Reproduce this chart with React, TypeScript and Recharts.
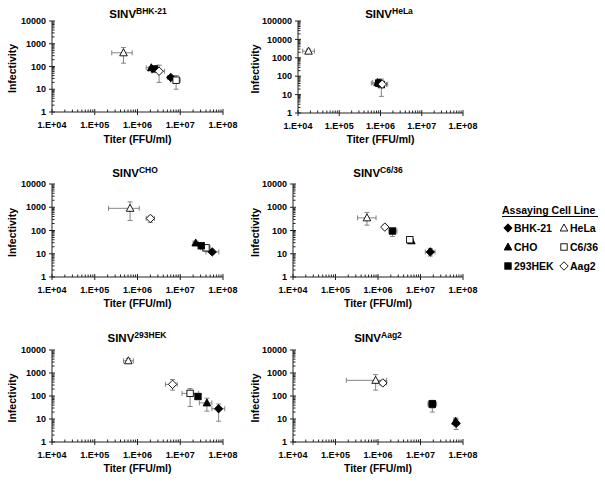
import React from 'react';
import { ScatterChart, Scatter, XAxis, YAxis, ZAxis, ErrorBar } from 'recharts';

// assaying cell lines, in legend order
const CELL_LINES = ['BHK-21', 'HeLa', 'CHO', 'C6/36', '293HEK', 'Aag2'];
const SHAPES = ['diamond', 'triangle', 'triangle', 'square', 'square', 'diamond'];
const FILLED = [true, false, true, false, true, false];

// tick labels
const X_MAJOR = [1e4, 1e5, 1e6, 1e7, 1e8];
const Y_MAJOR = [1, 10, 100, 1000, 10000];
const Y_MAJOR_TALL = [1, 10, 100, 1000, 10000, 100000];

// each row: [titer, titerLow, titerHigh, infectivity, infLow, infHigh], in CELL_LINES order
type Row = [number, number, number, number, number, number];

const SINV_BHK21: Row[] = [
  [6.0e6, 5.0e6, 7.0e6, 33, 28, 38],
  [4.7e5, 2.5e5, 7.5e5, 400, 140, 680],
  [2.1e6, 1.6e6, 2.6e6, 88, 75, 100],
  [8.0e6, 6.0e6, 1.0e7, 25, 10, 40],
  [2.5e6, 1.8e6, 3.0e6, 78, 60, 95],
  [3.2e6, 2.2e6, 4.3e6, 62, 20, 115],
];

const SINV_HELA: Row[] = [
  [9.5e5, 7.5e5, 1.2e6, 40, 30, 55],
  [1.8e4, 1.3e4, 2.5e4, 2300, 1800, 3000],
  [8.5e5, 6.5e5, 1.1e6, 45, 35, 60],
  [1.05e6, 8.0e5, 1.4e6, 35, 8, 70],
  [9.0e5, 6.0e5, 1.2e6, 42, 30, 70],
  [1.1e6, 9.0e5, 1.5e6, 37, 25, 50],
];

const SINV_CHO: Row[] = [
  [5.6e7, 4.0e7, 8.0e7, 12, 10, 14],
  [6.7e5, 2.1e5, 1.1e6, 900, 270, 1700],
  [2.3e7, 2.0e7, 2.6e7, 29, 25, 34],
  [4.0e7, 3.0e7, 5.0e7, 18, 13, 22],
  [3.1e7, 2.7e7, 3.5e7, 22, 19, 25],
  [2.0e6, 1.6e6, 2.5e6, 330, 220, 420],
];

const SINV_C636: Row[] = [
  [1.7e7, 1.3e7, 2.2e7, 12, 8, 17],
  [5.5e5, 3.3e5, 9.0e5, 350, 170, 600],
  [6.1e6, 5.5e6, 6.8e6, 36, 32, 40],
  [5.6e6, 5.0e6, 6.2e6, 40, 36, 45],
  [2.2e6, 1.8e6, 2.8e6, 95, 55, 115],
  [1.45e6, 1.3e6, 1.6e6, 140, 125, 155],
];

const SINV_293HEK: Row[] = [
  [7.9e7, 5.5e7, 1.1e8, 28, 8, 45],
  [6.1e5, 4.7e5, 8.0e5, 3400, 2700, 4200],
  [4.2e7, 2.8e7, 5.5e7, 50, 22, 80],
  [1.7e7, 1.1e7, 2.7e7, 130, 35, 210],
  [2.6e7, 2.3e7, 2.9e7, 95, 80, 110],
  [6.6e6, 4.5e6, 8.5e6, 320, 180, 520],
];

const SINV_AAG2: Row[] = [
  [6.9e7, 6.0e7, 7.8e7, 6.5, 3.5, 10],
  [8.8e5, 1.8e5, 1.6e6, 480, 180, 850],
  [6.7e7, 6.0e7, 7.5e7, 8, 5, 11],
  [1.9e7, 1.5e7, 2.4e7, 45, 20, 65],
  [1.9e7, 1.6e7, 2.3e7, 45, 30, 60],
  [1.3e6, 1.1e6, 1.6e6, 370, 300, 420],
];

const PANELS = [
  { virus: 'BHK-21', rows: SINV_BHK21, yTicks: Y_MAJOR, left: 52, right: 223, top: 21, bottom: 112, titleX: 138, titleY: 18, xTitleY: 143, yTitleX: 12 },
  { virus: 'HeLa', rows: SINV_HELA, yTicks: Y_MAJOR_TALL, left: 298, right: 463, top: 21, bottom: 113, titleX: 389, titleY: 18, xTitleY: 143, yTitleX: 255 },
  { virus: 'CHO', rows: SINV_CHO, yTicks: Y_MAJOR, left: 52, right: 223, top: 184, bottom: 277, titleX: 135, titleY: 177, xTitleY: 307, yTitleX: 12 },
  { virus: 'C6/36', rows: SINV_C636, yTicks: Y_MAJOR, left: 293, right: 463, top: 184, bottom: 277, titleX: 378, titleY: 177, xTitleY: 307, yTitleX: 255 },
  { virus: '293HEK', rows: SINV_293HEK, yTicks: Y_MAJOR, left: 52, right: 223, top: 350, bottom: 442, titleX: 137, titleY: 342, xTitleY: 472, yTitleX: 12 },
  { virus: 'Aag2', rows: SINV_AAG2, yTicks: Y_MAJOR, left: 293, right: 463, top: 350, bottom: 442, titleX: 378, titleY: 342, xTitleY: 472, yTitleX: 255 },
];

const FONT = '"Liberation Sans", Arial, sans-serif';
const AXIS = '#222';
const ERR = '#777';

const minorTicks = (majors: number[]) => {
  const out: number[] = [];
  majors.forEach((m, i) => {
    out.push(m);
    if (i < majors.length - 1) for (let k = 2; k <= 9; k++) out.push(m * k);
  });
  return out;
};

const isMajor = (v: number) => Math.abs(Math.log10(v) - Math.round(Math.log10(v))) < 1e-9;
const sci = (v: number) => `1.E+${String(Math.round(Math.log10(v))).padStart(2, '0')}`;

const XTick = (props: any) => {
  const { x, y, payload } = props;
  const major = isMajor(payload.value);
  return (
    <g>
      <line x1={x} x2={x} y1={major ? y - 3 : y - 2.5} y2={major ? y + 3 : y} stroke={AXIS} strokeWidth={1} />
      {major && (
        <text x={x} y={y + 16} textAnchor="middle" fontFamily={FONT} fontWeight="bold" fontSize={9} fill="#000">
          {sci(payload.value)}
        </text>
      )}
    </g>
  );
};

const YTick = (props: any) => {
  const { x, y, payload } = props;
  const major = isMajor(payload.value);
  return (
    <g>
      <line x1={major ? x - 3 : x} x2={major ? x + 3 : x + 2.5} y1={y} y2={y} stroke={AXIS} strokeWidth={1} />
      {major && (
        <text x={x - 6} y={y + 3.2} textAnchor="end" fontFamily={FONT} fontWeight="bold" fontSize={9} fill="#000">
          {payload.value}
        </text>
      )}
    </g>
  );
};

const drawMarker = (kind: string, filled: boolean, cx: number, cy: number, key?: string) => {
  const fill = filled ? '#000' : '#fff';
  if (kind === 'square') {
    return <rect key={key} x={cx - 3.2} y={cy - 3.2} width={6.4} height={6.4} fill={fill} stroke="#000" strokeWidth={0.9} />;
  }
  if (kind === 'triangle') {
    return <polygon key={key} points={`${cx},${cy - 4} ${cx + 3.8},${cy + 3} ${cx - 3.8},${cy + 3}`} fill={fill} stroke="#000" strokeWidth={0.9} />;
  }
  return <polygon key={key} points={`${cx},${cy - 4.2} ${cx + 4.2},${cy} ${cx},${cy + 4.2} ${cx - 4.2},${cy}`} fill={fill} stroke="#000" strokeWidth={0.9} />;
};

const YW = 50;
const TOPM = 10;
const XH = 40;
const RIGHTM = 30;

const Panel = ({ p }: { p: typeof PANELS[number] }) => {
  const w = p.right - p.left + YW + RIGHTM;
  const h = p.bottom - p.top + TOPM + XH;
  const yMax = p.yTicks[p.yTicks.length - 1];
  return (
    <div style={{ position: 'absolute', left: p.left - YW, top: p.top - TOPM }}>
      <ScatterChart width={w} height={h} margin={{ top: TOPM, right: RIGHTM, bottom: 0, left: 0 }}>
        <XAxis
          type="number"
          dataKey="x"
          scale="log"
          domain={[1e4, 1e8]}
          allowDataOverflow
          ticks={minorTicks(X_MAJOR)}
          interval={0}
          tick={<XTick />}
          tickLine={false}
          tickSize={0}
          tickMargin={0}
          height={XH}
          axisLine={{ stroke: AXIS, strokeWidth: 1 }}
        />
        <YAxis
          type="number"
          dataKey="y"
          scale="log"
          domain={[1, yMax]}
          allowDataOverflow
          ticks={minorTicks(p.yTicks)}
          interval={0}
          tick={<YTick />}
          tickLine={false}
          tickSize={0}
          tickMargin={0}
          width={YW}
          axisLine={{ stroke: AXIS, strokeWidth: 1 }}
        />
        <ZAxis range={[40, 40]} />
        {CELL_LINES.map((c, i) => {
          const [x, xl, xh, y, yl, yh] = p.rows[i];
          const data = [{ x, y, ex: [x - xl, xh - x], ey: [y - yl, yh - y] }];
          return (
            <Scatter
              key={c}
              name={c}
              data={data}
              isAnimationActive={false}
              shape={(sp: any) => drawMarker(SHAPES[i], FILLED[i], sp.cx, sp.cy)}
            >
              <ErrorBar dataKey="ex" direction="x" width={2.5} stroke={ERR} strokeWidth={0.9} />
              <ErrorBar dataKey="ey" direction="y" width={2.5} stroke={ERR} strokeWidth={0.9} />
            </Scatter>
          );
        })}
      </ScatterChart>
    </div>
  );
};

const LEGEND_COLS = [508, 564];
const LEGEND_ROWS = [228, 247, 266];

export default function App() {
  return (
    <div style={{ position: 'absolute', left: 0, top: 0, width: 605, height: 483, background: '#fff', overflow: 'hidden' }}>
      {PANELS.map((p) => (
        <Panel key={p.virus} p={p} />
      ))}
      <svg width={605} height={483} style={{ position: 'absolute', left: 0, top: 0, pointerEvents: 'none' }}>
        {PANELS.map((p) => {
          const cy = (p.top + p.bottom) / 2 + 2;
          return (
            <g key={p.virus} fontFamily={FONT} fontWeight="bold" fill="#000">
              <text x={p.titleX} y={p.titleY} textAnchor="middle" fontSize={11.5}>
                SINV<tspan fontSize={8.5} dy={-4}>{p.virus}</tspan>
              </text>
              <text x={(p.left + p.right) / 2} y={p.xTitleY} textAnchor="middle" fontSize={10.5}>
                Titer (FFU/ml)
              </text>
              <text x={p.yTitleX} y={cy} textAnchor="middle" fontSize={10.5} transform={`rotate(-90 ${p.yTitleX} ${cy})`} dominantBaseline="central">
                Infectivity
              </text>
            </g>
          );
        })}
        <g fontFamily={FONT} fontWeight="bold" fill="#000">
          <text x={502} y={214} fontSize={10.5}>Assaying Cell Line</text>
          <line x1={502} x2={598} y1={216.5} y2={216.5} stroke="#000" strokeWidth={1} />
          {CELL_LINES.map((c, i) => {
            const col = i % 2;
            const row = Math.floor(i / 2);
            const sx = LEGEND_COLS[col];
            const sy = LEGEND_ROWS[row];
            return (
              <g key={c}>
                {drawMarker(SHAPES[i], FILLED[i], sx, sy)}
                <text x={sx + 6} y={sy + 4} fontSize={10.5}>{c}</text>
              </g>
            );
          })}
        </g>
      </svg>
    </div>
  );
}
